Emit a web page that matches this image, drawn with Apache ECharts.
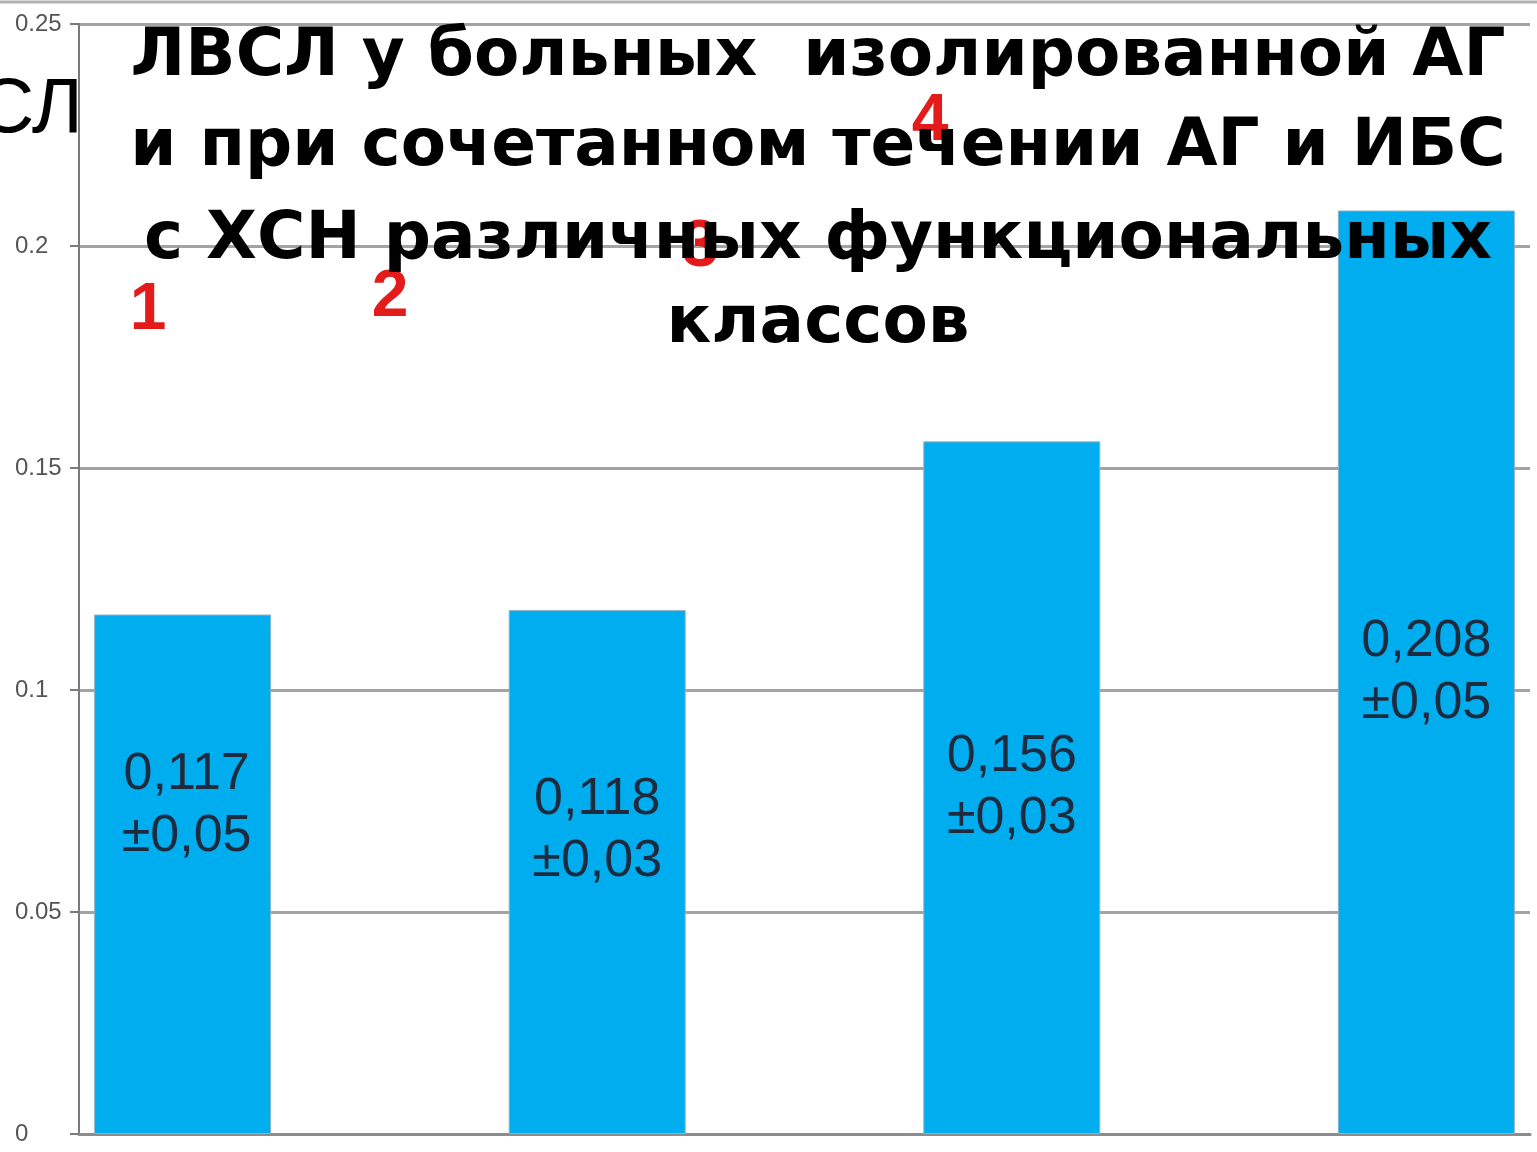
<!DOCTYPE html>
<html>
<head>
<meta charset="utf-8">
<script src="https://cdn.jsdelivr.net/npm/echarts@6/dist/echarts.min.js"></script>
<style>
html,body{margin:0;padding:0;background:#fff;}
#chart{width:1537px;height:1152px;}
</style>
</head>
<body>
<div id="chart"></div>
<script>
// ---- data ----
const categories = ['1', '2', '3', '4'];
const values = [0.117, 0.118, 0.156, 0.208];
const errors = ['±0,05', '±0,03', '±0,03', '±0,05'];
const yTicks = [0, 0.05, 0.1, 0.15, 0.2, 0.25];
const titleLines = [
  'ЛВСЛ у больных  изолированной АГ',
  'и при сочетанном течении АГ и ИБС',
  'с ХСН различных функциональных',
  'классов'
];
const axisFragment = 'СЛ';

// ---- styling (not data) ----
const labelOffsets = [[4, -69], [0, -41], [0, 0], [0, 0]];
const numberMarks = [[148, 311], [390, 298], [700, 248], [930, 122]];
const titleY = [58, 148, 241, 325];

const chart = echarts.init(document.getElementById('chart'), null, {renderer: 'canvas'});

const seriesData = values.map((v, i) => ({
  value: [i, v],
  label: {offset: labelOffsets[i]}
}));

const graphics = [];
graphics.push({type: 'line', shape: {x1: 0, y1: 2, x2: 1537, y2: 2}, style: {stroke: '#b0b0b0', lineWidth: 3}, z: 1});
graphics.push({
  type: 'text', x: 83, y: 110, z: 60,
  style: {text: axisFragment, fill: '#000', font: '78px "Liberation Sans", Arial, sans-serif', textAlign: 'right', textVerticalAlign: 'middle'}
});
categories.forEach((c, i) => {
  graphics.push({
    type: 'text', x: numberMarks[i][0], y: numberMarks[i][1], z: 50,
    style: {text: c, fill: '#e31b1b', font: 'bold 66px "Liberation Sans", Arial, sans-serif', textAlign: 'center', textVerticalAlign: 'middle'}
  });
});
titleLines.forEach((t, i) => {
  graphics.push({
    type: 'text', x: 818, y: titleY[i], z: 100,
    style: {text: t, fill: '#000', font: 'bold 66px "DejaVu Sans", sans-serif', textAlign: 'center', textVerticalAlign: 'middle'}
  });
});

chart.setOption({
  animation: false,
  backgroundColor: '#ffffff',
  grid: {left: 79, right: 7, top: 24, bottom: 18, containLabel: false},
  xAxis: {
    type: 'value', min: -0.25, max: 3.25,
    axisLine: {show: true, onZero: false, lineStyle: {color: '#8c8c8c', width: 3}},
    axisTick: {show: false}, axisLabel: {show: false}, splitLine: {show: false}
  },
  yAxis: {
    type: 'value', min: yTicks[0], max: yTicks[yTicks.length - 1], interval: 0.05,
    axisLine: {show: true, onZero: false, lineStyle: {color: '#7a7a7a', width: 2}},
    axisTick: {show: true, length: 9, lineStyle: {color: '#7a7a7a', width: 2}},
    axisLabel: {
      align: 'left', margin: 64, color: '#555', fontSize: 24,
      fontFamily: '"Liberation Sans", Arial, sans-serif',
      formatter: v => String(+v.toFixed(2))
    },
    splitLine: {show: true, lineStyle: {color: '#a3a3a3', width: 3}}
  },
  series: [{
    type: 'bar',
    data: seriesData,
    barWidth: 177,
    itemStyle: {color: '#00aeef', borderColor: '#8fb3c4', borderWidth: 1},
    label: {
      show: true, position: 'inside',
      formatter: p => p.value[1].toFixed(3).replace('.', ',') + '\n' + errors[p.dataIndex],
      color: '#1d2b3e', fontSize: 52, lineHeight: 62,
      fontFamily: '"Liberation Sans", Arial, sans-serif'
    }
  }],
  graphic: graphics
});
</script>
</body>
</html>
